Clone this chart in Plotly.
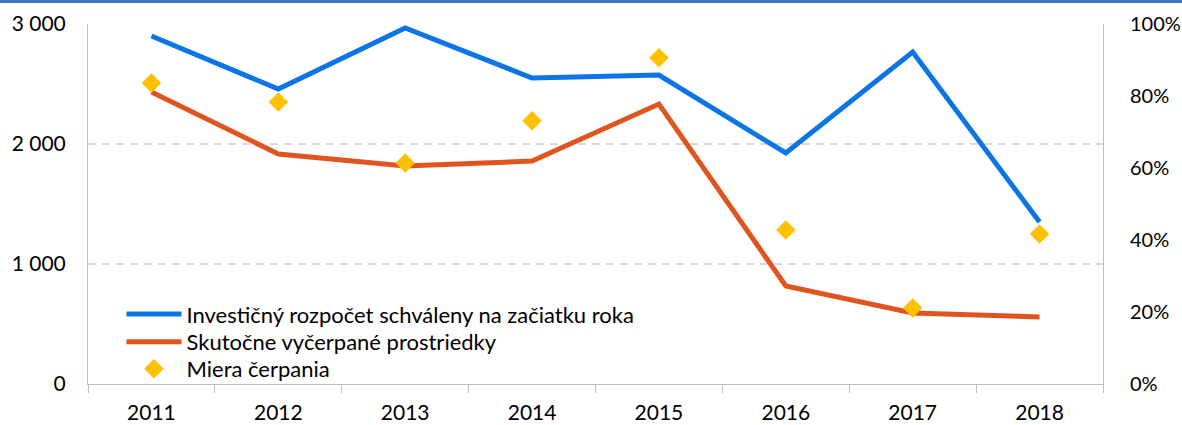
import plotly.graph_objects as go

years = ["2011", "2012", "2013", "2014", "2015", "2016", "2017", "2018"]
budget = [2900, 2458, 2967, 2550, 2575, 1925, 2767, 1350]
spent = [2433, 1917, 1817, 1858, 2333, 817, 592, 558]
rate = [0.836, 0.783, 0.614, 0.731, 0.906, 0.428, 0.211, 0.417]

left_ticks = [0, 1000, 2000, 3000]
left_labels = ["0", "1 000", "2 000", "3 000"]
right_ticks = [0, 0.2, 0.4, 0.6, 0.8, 1.0]
right_labels = ["0%", "20%", "40%", "60%", "80%", "100%"]

names = ["Investičný rozpočet schváleny na začiatku roka",
         "Skutočne vyčerpané prostriedky",
         "Miera čerpania"]

FONT = "Lato, Open Sans, sans-serif"

fig = go.Figure()
fig.add_trace(go.Scatter(x=years, y=budget, mode="lines", name=names[0], legend="legend",
                         line=dict(color="#0B74E6", width=5)))
fig.add_trace(go.Scatter(x=years, y=spent, mode="lines", name=names[1], legend="legend2",
                         line=dict(color="#E0541F", width=5)))
fig.add_trace(go.Scatter(x=years, y=rate, mode="markers", name=names[2], yaxis="y2",
                         legend="legend3",
                         marker=dict(symbol="diamond", color="#FFC000", size=15)))

leg_common = dict(x=0.033, xanchor="left", yanchor="middle",
                  bgcolor="rgba(0,0,0,0)", font=dict(size=22), itemwidth=55)

fig.update_layout(
    width=1182, height=425,
    margin=dict(l=88, r=79, t=24, b=41, autoexpand=False),
    paper_bgcolor="white", plot_bgcolor="white",
    font=dict(family=FONT, size=21, color="#000000"),
    showlegend=True,
    legend=dict(y=0.194, **leg_common),
    legend2=dict(y=0.117, **leg_common),
    legend3=dict(y=0.042, **leg_common),
    xaxis=dict(type="category", tickson="boundaries", ticks="outside", ticklen=8,
               tickcolor="#BFBFBF", showline=True, linecolor="#BFBFBF", linewidth=1,
               showgrid=False, range=[-0.5, 7.5], automargin=False,
               ticklabelstandoff=10),
    yaxis=dict(range=[0, 3000], tickvals=left_ticks, ticktext=left_labels,
               showgrid=True, gridcolor="#D9D9D9", griddash="8px,6px", gridwidth=2,
               showline=True, linecolor="#BFBFBF", linewidth=1, zeroline=False,
               ticks="", ticklabelstandoff=17, automargin=False),
    yaxis2=dict(range=[0, 1.0], tickvals=right_ticks, ticktext=right_labels,
                overlaying="y", side="right", showgrid=False, zeroline=False,
                showline=True, linecolor="#BFBFBF", linewidth=1, ticks="",
                ticklabelstandoff=22, automargin=False, tickfont=dict(size=20)),
    shapes=[dict(type="rect", xref="paper", yref="paper",
                 x0=-88/1015, x1=1+79/1015, y0=1+21/360, y1=1+24/360+0.01,
                 fillcolor="#4472C4", line=dict(width=0), layer="above")],
)

fig.write_html("out.html", config={"displayModeBar": False},
               post_script="document.body.style.margin='0';")
